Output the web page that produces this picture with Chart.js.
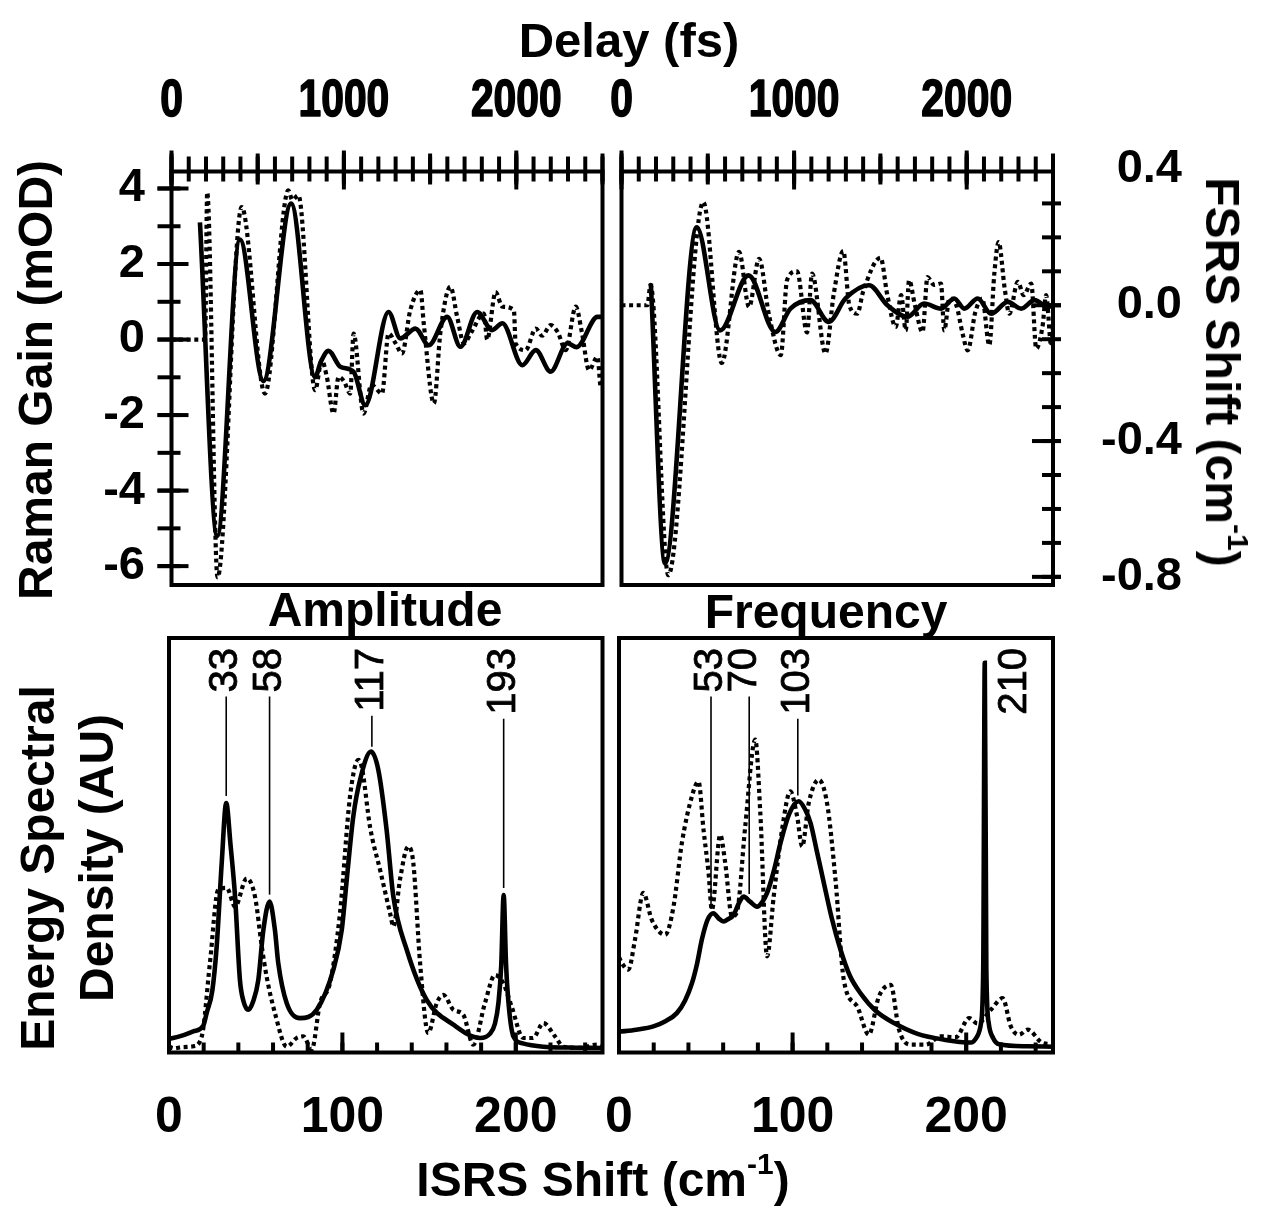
<!DOCTYPE html>
<html>
<head>
<meta charset="utf-8">
<script src="https://cdn.jsdelivr.net/npm/chart.js@4.4.1/dist/chart.umd.min.js"></script>
<style>
  html, body { margin: 0; padding: 0; background: #fff; }
  #page { position: relative; width: 1263px; height: 1208px; overflow: hidden;
          font-family: "Liberation Sans", Arial, Helvetica, sans-serif; }
  canvas { position: absolute; left: 0; top: 0; }
  .t { position: absolute; font-weight: bold; font-size: 48px; line-height: 1; white-space: nowrap;
       color: #000; transform: translate(-50%, -50%); }
  .up { transform: translate(-50%, -50%) rotate(-90deg); }
  .down { transform: translate(-50%, -50%) rotate(90deg); }
  .t sup { font-size: 30px; vertical-align: 0.75em; line-height: 0; }
</style>
</head>
<body>
<div id="page">
  <canvas id="gain" width="1263" height="1208"></canvas>
  <canvas id="shift" width="1263" height="1208"></canvas>
  <canvas id="amp" width="1263" height="1208"></canvas>
  <canvas id="freq" width="1263" height="1208"></canvas>

  <div class="t" style="left:629px; top:40px; font-size:49px">Delay (fs)</div>
  <div class="t up" style="left:36px; top:380px">Raman Gain (mOD)</div>
  <div class="t down" style="left:1222px; top:372px">FSRS Shift (cm<sup>-1</sup>)</div>
  <div class="t" style="left:385px; top:610px">Amplitude</div>
  <div class="t" style="left:826px; top:612px">Frequency</div>
  <div class="t up" style="left:38px; top:868px">Energy Spectral</div>
  <div class="t up" style="left:97px; top:858px">Density (AU)</div>
  <div class="t" style="left:603px; top:1180px">ISRS Shift (cm<sup>-1</sup>)</div>
</div>
<script>
// ---- data ----
// Raman gain vs delay (mOD): solid = fit, dotted = data
const gainFitDelay = [165, 265, 397, 533, 694, 833, 865, 911, 979, 1056, 1124, 1259, 1327, 1415, 1492, 1599, 1676, 1773, 1860, 1919, 2035, 2113, 2199, 2297, 2350, 2471, 2500];
const gainFit = [3.1, -5.2, 2.65, -1.1, 3.6, -1.0, -0.6, -0.3, -0.72, -0.85, -1.74, 0.73, 0.03, 0.29, -0.15, 0.6, -0.19, 0.73, 0.25, 0.43, -0.68, -0.28, -0.85, -0.1, -0.2, 0.6, 0.6];
const gainDataDelay = [0, 195, 207, 267, 407, 542, 678, 700, 736, 833, 872, 901, 940, 969, 1000, 1037, 1056, 1114, 1160, 1221, 1259, 1300, 1337, 1385, 1444, 1463, 1522, 1560, 1618, 1657, 1696, 1740, 1812, 1831, 1880, 1919, 1986, 1996, 2054, 2113, 2150, 2199, 2240, 2287, 2345, 2380, 2422, 2471, 2490, 2500];
const gainData = [0, 0, 3.9, -6.3, 3.51, -1.43, 3.95, 3.7, 3.82, -1.34, -0.55, -0.99, -1.96, -0.99, -1.1, -1.43, 0.16, -1.96, -1.2, -1.43, 0.16, -0.1, -0.37, 0.78, 1.31, 0.43, -1.69, 0.2, 1.4, 0.6, -0.1, 0.2, 0.69, 0, 1.26, 0.87, 0.78, -0.1, -0.28, 0.29, 0.1, 0.38, 0.2, -0.28, 0.87, 0.2, -0.81, -0.46, -1.25, -0.9];

// FSRS shift vs delay (cm-1)
const shiftFitDelay = [170, 252, 436, 571, 736, 891, 979, 1095, 1201, 1298, 1434, 1541, 1657, 1753, 1851, 1928, 1986, 2064, 2141, 2238, 2316, 2393, 2471, 2500];
const shiftFit = [0.064, -0.76, 0.23, -0.074, 0.088, -0.079, -0.01, 0.015, -0.049, 0.02, 0.059, 0, -0.034, 0.005, -0.01, 0.02, -0.01, 0.02, -0.025, 0.01, -0.01, 0.015, -0.005, 0];
const shiftDataDelay = [0, 150, 168, 271, 474, 581, 681, 739, 797, 855, 923, 959, 1017, 1075, 1104, 1182, 1230, 1285, 1320, 1366, 1400, 1501, 1540, 1589, 1620, 1647, 1666, 1700, 1744, 1773, 1810, 1851, 1870, 1900, 1940, 1976, 2006, 2050, 2090, 2131, 2160, 2185, 2220, 2247, 2296, 2330, 2374, 2403, 2440, 2460, 2490, 2500];
const shiftData = [0, 0, 0.06, -0.795, 0.304, -0.17, 0.157, -0.005, 0.137, -0.03, -0.147, 0.074, 0.1, -0.08, 0.093, -0.142, 0.034, 0.16, 0.0, -0.025, 0.04, 0.14, 0.03, -0.064, 0.03, -0.074, 0.074, 0.0, -0.079, 0.083, 0.06, 0.064, -0.074, 0.02, 0.0, -0.083, -0.133, -0.02, 0.02, -0.118, 0.093, 0.186, 0.05, -0.025, 0.069, 0.03, 0.064, -0.128, -0.06, 0.03, -0.12, -0.06];

// energy spectral density (AU) vs ISRS shift (cm-1)
const ampFitShift = [0, 7, 14, 19.8, 21.7, 25, 27.5, 30.4, 33, 35.5, 38.1, 40.9, 43, 45.7, 48.5, 51.5, 54.4, 58, 61.1, 63, 67.9, 75.5, 85.2, 94.8, 99.6, 102.5, 106.3, 110.2, 116.5, 120.7, 125.5, 129.4, 137.1, 148.6, 164, 179.4, 185, 188, 190, 191.6, 193, 194.4, 196, 198.6, 204, 215.9, 230, 250];
const ampFit = [3.3, 4.0, 5.1, 6.5, 9.5, 15, 25.6, 45.7, 60.2, 50, 37.6, 17.5, 12.3, 10.3, 12.3, 17.5, 29.5, 36.4, 29.5, 21.6, 11.9, 8.3, 10.3, 20, 29.5, 41.7, 57, 65.8, 72.6, 68.2, 53.7, 37.6, 24.8, 12.7, 6.7, 3.5, 4.5, 7, 12, 21, 38, 21, 11, 3.9, 2.2, 1.4, 1.2, 1.1];
const ampDataShift = [0, 2.5, 8, 14, 18.9, 23.6, 28.4, 33.3, 38.1, 44.8, 49.6, 53.5, 56.3, 61.1, 67.9, 73.6, 77.5, 82.3, 87.1, 92.8, 98.6, 104.4, 109.2, 111.3, 115.9, 121.7, 127.5, 129.4, 133.2, 138, 140.9, 144.8, 149.5, 154.4, 158.2, 164, 169.7, 175.5, 182.2, 188, 192.8, 197.6, 204.3, 209.9, 215.9, 222.6, 227.4, 237, 246.7, 250];
const ampData = [1.5, 1, 1.3, 1.5, 3.9, 21.6, 39.3, 39.7, 35.2, 42, 37.6, 25.6, 18.3, 9.5, 1.4, 3.5, 3.9, 0.7, 11.9, 16.7, 33.6, 61.8, 70.6, 68.6, 54.5, 44.1, 33.6, 30.4, 41.7, 49.7, 45.7, 21.6, 4.7, 11.9, 13.9, 10.3, 9.1, 1.9, 11.9, 18.7, 16.7, 11.1, 3.5, 3.5, 7.1, 3.9, 1.4, 1.1, 1.9, 1.5];

const freqFitShift = [0, 10, 19.8, 27, 33.3, 38, 42, 45, 47.7, 51, 54.4, 57.5, 60.2, 63, 66, 69, 71.8, 75.5, 79.5, 82.5, 85.3, 89, 93, 98, 103.5, 107, 110.3, 114, 118, 122.5, 127.6, 133, 139.1, 148, 158.4, 172, 187.2, 203, 206.5, 208.5, 209.8, 210.7, 211.6, 213, 215.5, 219, 235, 250];
const freqFit = [5.0, 5.5, 6.3, 7.6, 9.5, 12.5, 16.7, 21.5, 27.2, 32, 33.6, 32.3, 31.6, 32.2, 33.2, 36, 37.6, 36.4, 35.2, 36.3, 38.5, 43.5, 50.5, 57.5, 60.6, 58.8, 55.4, 48.5, 40.9, 32.5, 24.8, 18.5, 14.3, 10, 7.1, 4.5, 3.1, 2.4, 4, 7, 20, 94, 20, 7, 3.5, 2, 1.5, 1.4];
const freqDataShift = [0, 1.6, 5.4, 9.2, 14, 18.9, 26.6, 31.4, 36.2, 42, 45.8, 48.7, 51.6, 53.5, 58.3, 61.2, 65.1, 68, 72.7, 78.5, 81.4, 85.3, 89.1, 93.9, 98.7, 102.6, 105.5, 109.3, 115.1, 119.9, 124.7, 129.5, 137.2, 143.9, 149.7, 156.5, 161.3, 168, 176.7, 185.3, 194, 201.7, 206.5, 214.2, 221, 225.7, 230.5, 235.4, 244, 250];
const freqData = [23, 21.6, 20, 27.2, 38.5, 32, 28.4, 35.2, 50.5, 61.8, 65.4, 53.7, 43.3, 34.4, 52.5, 45.7, 32.8, 34, 54.5, 75.5, 57.8, 23.2, 37.6, 53.7, 63, 57, 49.7, 60.2, 65.8, 60, 41.7, 17.5, 11.1, 4.3, 13.5, 16.3, 5.5, 1.9, 1.9, 3.9, 3.7, 8.3, 7, 10.3, 13.1, 6.3, 4.3, 5.5, 2.3, 2.0];

// tick labels and peak marks
const delayLabels = [0, 1000, 2000];
const gainLabels = [4, 2, 0, -2, -4, -6];
const shiftLabels = [0.4, 0.0, -0.4, -0.8];
const isrsLabels = [0, 100, 200];
const ampPeaks = [33, 58, 117, 193];
const ampPeakLines = [33, 58, 117, 193];
const freqPeaks = [53, 70, 103, 210];
const freqPeakLabelAt = [53, 72.5, 103, 228];
const freqPeakLines = [53, 75, 103, null];

const FONT = '"Liberation Sans", Arial, Helvetica, sans-serif';

function steps(min, max, step) {
  const out = [];
  for (let v = min; v <= max + 1e-9; v += step) out.push(+v.toFixed(6));
  return out;
}

function pts(xs, ys) {
  return xs.map((x, i) => ({x: x, y: ys[i]}));
}

function valueAt(xs, ys, x) {
  for (let i = 1; i < xs.length; i++) {
    if (x <= xs[i]) {
      const f = (x - xs[i - 1]) / (xs[i] - xs[i - 1]);
      return ys[i - 1] + f * (ys[i] - ys[i - 1]);
    }
  }
  return ys[ys.length - 1];
}

// frame, tick marks, tick labels and peak notes, all placed through the chart scales
function decor(cfg) {
  return {
    id: 'decor',
    afterDatasetsDraw(chart) {
      const ctx = chart.ctx, a = chart.chartArea;
      const sx = chart.scales.x, sy = chart.scales.y;
      ctx.save();
      ctx.strokeStyle = '#000';
      ctx.fillStyle = '#000';
      ctx.lineCap = 'butt';
      ctx.lineWidth = 4;
      (cfg.ticks || []).forEach(t => {
        t.values.forEach(v => {
          ctx.beginPath();
          if (t.edge === 'top' || t.edge === 'bottom') {
            const px = sx.getPixelForValue(v);
            const y0 = t.edge === 'top' ? a.top : a.bottom;
            const d = t.edge === 'top' ? 1 : -1;
            ctx.moveTo(px, y0 - d * t.out);
            ctx.lineTo(px, y0 + d * t.in);
          } else {
            const py = sy.getPixelForValue(v);
            const x0 = t.edge === 'left' ? a.left : a.right;
            const d = t.edge === 'left' ? 1 : -1;
            ctx.moveTo(x0 - d * t.out, py);
            ctx.lineTo(x0 + d * t.in, py);
          }
          ctx.stroke();
        });
      });
      ctx.lineWidth = 4;
      ctx.strokeRect(a.left, a.top, a.right - a.left, a.bottom - a.top);

      (cfg.labels || []).forEach(l => {
        ctx.font = l.font;
        ctx.textBaseline = 'middle';
        l.values.forEach(v => {
          const txt = l.decimals != null ? v.toFixed(l.decimals) : String(v);
          let x, y;
          if (l.edge === 'top' || l.edge === 'bottom') {
            x = sx.getPixelForValue(v); y = l.at; ctx.textAlign = 'center';
          } else {
            x = l.at; y = sy.getPixelForValue(v); ctx.textAlign = 'right';
          }
          ctx.save();
          ctx.translate(x, y);
          ctx.scale(l.squeeze || 1, 1);
          if (l.heavy) {
            ctx.lineWidth = l.heavy;
            ctx.lineJoin = 'round';
            ctx.strokeText(txt, 0, 0);
          }
          ctx.fillText(txt, 0, 0);
          ctx.restore();
        });
      });

      if (cfg.peaks) {
        const p = cfg.peaks;
        ctx.font = '40px ' + FONT;
        p.text.forEach((txt, i) => {
          const px = sx.getPixelForValue(p.labelAt[i]);
          const w = ctx.measureText(String(txt)).width;
          ctx.save();
          ctx.translate(px, p.top);
          ctx.rotate(-Math.PI / 2);
          ctx.textAlign = 'right';
          ctx.textBaseline = 'middle';
          ctx.lineWidth = 0.8;
          ctx.strokeText(String(txt), 0, 0);
          ctx.fillText(String(txt), 0, 0);
          ctx.restore();
          const lx = p.lines[i];
          if (lx != null) {
            const x = sx.getPixelForValue(lx);
            const yEnd = sy.getPixelForValue(valueAt(p.xs, p.ys, lx)) - 7;
            ctx.lineWidth = 1.6;
            ctx.beginPath();
            ctx.moveTo(x, p.top + w + 4);
            ctx.lineTo(x, yEnd);
            ctx.stroke();
          }
        });
      }
      ctx.restore();
    }
  };
}

function solid(data) {
  return {data: data, borderColor: '#000', borderWidth: 4.6, pointRadius: 0,
          cubicInterpolationMode: 'monotone', fill: false};
}
function dotted(data) {
  return {data: data, borderColor: '#000', borderWidth: 4.2, borderDash: [4, 3.6],
          borderCapStyle: 'butt', pointRadius: 0, cubicInterpolationMode: 'monotone', fill: false};
}

function panel(id, box, xr, yr, datasets, cfg) {
  return new Chart(document.getElementById(id), {
    type: 'line',
    data: {datasets: datasets},
    options: {
      responsive: false,
      animation: false,
      events: [],
      layout: {padding: {left: box[0], top: box[1], right: 1263 - box[2], bottom: 1208 - box[3]}},
      plugins: {legend: {display: false}, tooltip: {enabled: false}},
      scales: {
        x: {type: 'linear', display: false, min: xr[0], max: xr[1]},
        y: {type: 'linear', display: false, min: yr[0], max: yr[1]}
      }
    },
    plugins: [decor(cfg)]
  });
}

const topTicks = [
  {edge: 'top', values: steps(0, 2500, 100), out: 15, in: 10},
  {edge: 'top', values: steps(0, 2500, 500), out: 18, in: 13},
  {edge: 'top', values: steps(0, 2000, 1000), out: 21, in: 18}
];
const topLabels = {edge: 'top', values: delayLabels, at: 102, font: 'bold 51px ' + FONT, squeeze: 0.8, heavy: 1.6};
const bottomTicks = [
  {edge: 'bottom', values: steps(0, 240, 20), out: 0, in: 10},
  {edge: 'bottom', values: [100, 200], out: 0, in: 20}
];
const bottomLabels = {edge: 'bottom', values: isrsLabels, at: 1118, font: 'bold 50px ' + FONT};

panel('gain', [171.5, 171.5, 602.5, 585], [0, 2500], [-6.5, 4.45],
  [dotted(pts(gainDataDelay, gainData)), solid(pts(gainFitDelay, gainFit))],
  {
    ticks: topTicks.concat([
      {edge: 'left', values: steps(-6, 4, 1), out: 14, in: 9},
      {edge: 'left', values: steps(-6, 4, 2), out: 14, in: 17}
    ]),
    labels: [topLabels, {edge: 'left', values: gainLabels, at: 145, font: 'bold 47px ' + FONT}]
  });

panel('shift', [621.5, 171.5, 1053, 585], [0, 2500], [-0.824, 0.394],
  [dotted(pts(shiftDataDelay, shiftData)), solid(pts(shiftFitDelay, shiftFit))],
  {
    ticks: topTicks.concat([
      {edge: 'right', values: steps(-0.8, 0.3, 0.1), out: 8, in: 11},
      {edge: 'right', values: [0, -0.4, -0.8], out: 8, in: 21}
    ]),
    labels: [topLabels, {edge: 'right', values: shiftLabels, at: 1182, font: 'bold 47px ' + FONT, decimals: 1}]
  });

panel('amp', [169, 638, 602.5, 1052.5], [0, 250], [0, 100],
  [dotted(pts(ampDataShift, ampData)), solid(pts(ampFitShift, ampFit))],
  {
    ticks: bottomTicks,
    labels: [bottomLabels],
    peaks: {text: ampPeaks, labelAt: ampPeaks, lines: ampPeakLines, xs: ampFitShift, ys: ampFit, top: 648}
  });

panel('freq', [619, 638, 1053, 1052.5], [0, 250], [0, 100],
  [dotted(pts(freqDataShift, freqData)), solid(pts(freqFitShift, freqFit))],
  {
    ticks: bottomTicks,
    labels: [bottomLabels],
    peaks: {text: freqPeaks, labelAt: freqPeakLabelAt, lines: freqPeakLines, xs: freqFitShift, ys: freqFit, top: 648}
  });
</script>
</body>
</html>
